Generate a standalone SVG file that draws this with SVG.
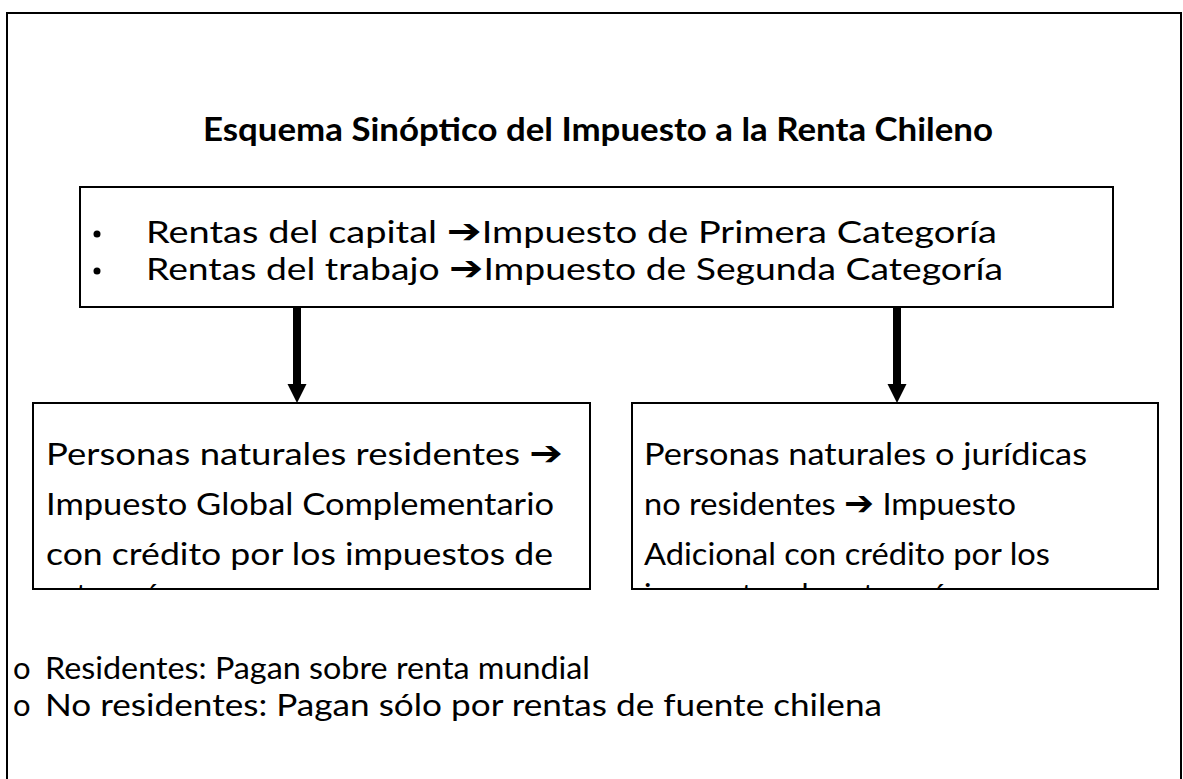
<svg xmlns="http://www.w3.org/2000/svg" width="1183" height="779" viewBox="0 0 1183 779">
<defs>
<style>
.t{font-family:Lato,"Open Sans","Liberation Sans",sans-serif;fill:#000;}
.b{font-size:31px;}
.ar{font-family:"DejaVu Sans",sans-serif;font-weight:bold;font-size:1.1em;}
.box{fill:#fff;stroke:#000;stroke-width:2;}
.sh{stroke:#000;stroke-width:8;fill:none;}
</style>
<marker id="ah" markerUnits="userSpaceOnUse" markerWidth="20" markerHeight="20" viewBox="0 0 20 20" refX="0" refY="10" orient="auto">
<path d="M0,0.5 L19,10 L0,19.5 Z" fill="#000"/>
</marker>
<clipPath id="cl"><rect x="34" y="404" width="555" height="184"/></clipPath>
<clipPath id="cr"><rect x="633" y="404" width="524" height="184"/></clipPath>
</defs>
<rect width="1183" height="779" fill="#fff"/>
<path d="M7,779 V13 H1181 V779" fill="none" stroke="#000" stroke-width="2"/>
<g id="title">
<text class="t" x="203" y="141" font-size="33" font-weight="bold" textLength="790" lengthAdjust="spacingAndGlyphs">Esquema Sinóptico del Impuesto a la Renta Chileno</text>
</g>
<g id="top">
<rect class="box" x="80" y="187" width="1033" height="120"/>
<circle cx="97" cy="234" r="3.5"/>
<circle cx="97" cy="271" r="3.5"/>
<text class="t b" x="146" y="243" font-size="30" textLength="851" lengthAdjust="spacingAndGlyphs">Rentas del capital <tspan class="ar">➔</tspan>Impuesto de Primera Categoría</text>
<text class="t b" x="146" y="280" font-size="30" textLength="857" lengthAdjust="spacingAndGlyphs">Rentas del trabajo <tspan class="ar">➔</tspan>Impuesto de Segunda Categoría</text>
</g>
<g id="connectors">
<line class="sh" x1="297" y1="307" x2="297" y2="384" marker-end="url(#ah)"/>
<line class="sh" x1="897" y1="307" x2="897" y2="384" marker-end="url(#ah)"/>
</g>
<g id="left">
<rect class="box" x="33" y="403" width="557" height="186"/>
<g clip-path="url(#cl)">
<text class="t b" x="46" y="465" textLength="517" lengthAdjust="spacingAndGlyphs">Personas naturales residentes <tspan class="ar">➔</tspan></text>
<text class="t b" x="46" y="515" textLength="508" lengthAdjust="spacingAndGlyphs">Impuesto Global Complementario</text>
<text class="t b" x="46" y="565" textLength="507" lengthAdjust="spacingAndGlyphs">con crédito por los impuestos de</text>
<text class="t b" x="46" y="606">categoría</text>
</g>
</g>
<g id="right">
<rect class="box" x="632" y="403" width="526" height="186"/>
<g clip-path="url(#cr)">
<text class="t b" x="644" y="465" textLength="443" lengthAdjust="spacingAndGlyphs">Personas naturales o jurídicas</text>
<text class="t b" x="644" y="515" textLength="372" lengthAdjust="spacingAndGlyphs">no residentes <tspan class="ar">➔</tspan> Impuesto</text>
<text class="t b" x="644" y="565" textLength="406" lengthAdjust="spacingAndGlyphs">Adicional con crédito por los</text>
<text class="t b" x="644" y="606">impuestos de categoría</text>
</g>
</g>
<g id="notes">
<text class="t b" x="13" y="679">o</text>
<text class="t b" x="45" y="679" textLength="545" lengthAdjust="spacingAndGlyphs">Residentes: Pagan sobre renta mundial</text>
<text class="t b" x="13" y="716">o</text>
<text class="t b" x="45" y="716" textLength="837" lengthAdjust="spacingAndGlyphs">No residentes: Pagan sólo por rentas de fuente chilena</text>
</g>
</svg>
